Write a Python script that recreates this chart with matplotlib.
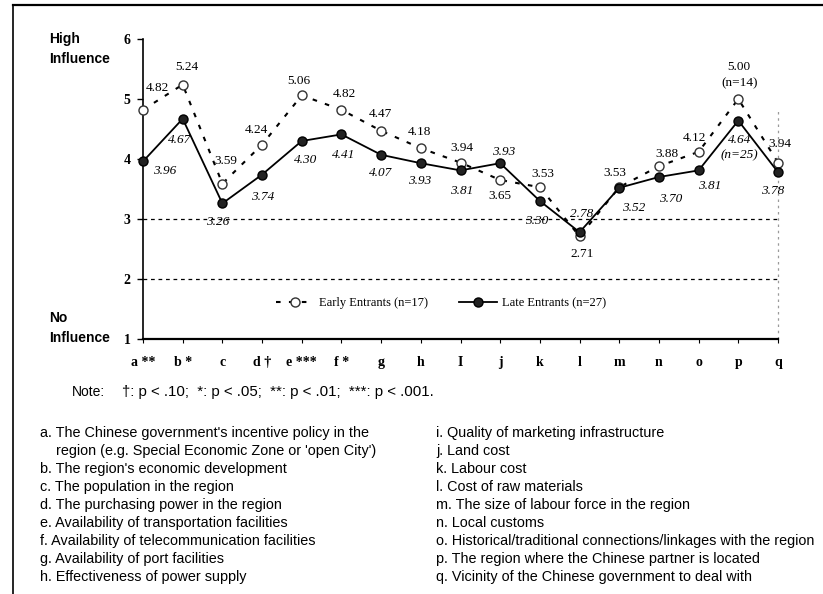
import matplotlib
matplotlib.use("Agg")
import matplotlib.pyplot as plt
from matplotlib.lines import Line2D

# Factor codes and mean influence scores
factors = ["a **", "b *", "c", "d \u2020", "e ***", "f *", "g", "h", "I", "j",
           "k", "l", "m", "n", "o", "p", "q"]
early = [4.82, 5.24, 3.59, 4.24, 5.06, 4.82, 4.47, 4.18, 3.94, 3.65,
         3.53, 2.71, 3.53, 3.88, 4.12, 5.00, 3.94]
late = [3.96, 4.67, 3.26, 3.74, 4.30, 4.41, 4.07, 3.93, 3.81, 3.93,
        3.30, 2.78, 3.52, 3.70, 3.81, 4.64, 3.78]
early_extra = {15: "(n=14)"}
late_extra = {15: "(n=25)"}

# label offsets in pixels (dx right, dy down) relative to each point
early_off = [(14, -22), (4, -18), (3, -23), (-6, -15), (-3, -14), (3, -16),
             (-1, -17), (-1, -16), (1, -15), (0, 16), (3, -13), (3, 18),
             (-4, -14), (8, -12), (-4, -14), (1, -24), (2, -19)]
late_off = [(22, 10), (-3, 21), (-5, 19), (1, 22), (4, 19), (2, 21),
            (-1, 18), (-1, 18), (1, 21), (3, -11), (-3, 20), (2, -18),
            (14, 20), (12, 22), (11, 16), (1, 27), (-5, 19)]

notes = "\u2020: p < .10;  *: p < .05;  **: p < .01;  ***: p < .001."
left_items = [
    "a. The Chinese government's incentive policy in the",
    "    region (e.g. Special Economic Zone or 'open City')",
    "b. The region's economic development",
    "c. The population in the region",
    "d. The purchasing power in the region",
    "e. Availability of transportation facilities",
    "f. Availability of telecommunication facilities",
    "g. Availability of port facilities",
    "h. Effectiveness of power supply",
]
right_items = [
    "i. Quality of marketing infrastructure",
    "j. Land cost",
    "k. Labour cost",
    "l. Cost of raw materials",
    "m. The size of labour force in the region",
    "n. Local customs",
    "o. Historical/traditional connections/linkages with the region",
    "p. The region where the Chinese partner is located",
    "q. Vicinity of the Chinese government to deal with",
]

SERIF = "Liberation Serif"
SANS = "Liberation Sans"
W, H = 823, 594

fig = plt.figure(figsize=(W / 100, H / 100), dpi=100)
fig.patch.set_facecolor("white")


def fx(px):
    return px / W


def fy(py):
    return 1 - py / H


ax_left, ax_right, ax_top, ax_bot = 143, 778, 39, 339
ax = fig.add_axes([fx(ax_left), fy(ax_bot), fx(ax_right - ax_left),
                   (ax_bot - ax_top) / H])
x = list(range(len(factors)))
ax.set_xlim(0, len(factors) - 1)
ax.set_ylim(1, 6)

# reference lines
for yv in (2, 3):
    ax.plot([0, 16], [yv, yv], color="black", lw=0.9, ls=(0, (3, 3)), zorder=1)
ax.plot([16, 16], [1, 4.8], color="#9a9a9a", lw=0.9, ls=(0, (2, 3)), zorder=1,
        clip_on=False)

ax.plot(x, early, color="black", lw=1.5, ls=(0, (2.2, 4)), marker="o",
        ms=6.5, mfc="white", mec="#333333", mew=1.0, clip_on=False, zorder=3,
        label="Early Entrants (n=17)")
ax.plot(x, late, color="black", lw=1.3, ls="-", marker="o", ms=6.5,
        mfc="#222222", mec="black", mew=1.0, clip_on=False, zorder=4,
        label="Late Entrants (n=27)")

for i, v in enumerate(early):
    txt = f"{v:.2f}"
    if i in early_extra:
        txt += "\n" + early_extra[i]
    dx, dy = early_off[i]
    ax.annotate(txt, (i, v), xytext=(dx, -dy), textcoords="offset pixels",
                ha="center", va="center", fontsize=9.5, family=SERIF,
                linespacing=1.4, zorder=5)
for i, v in enumerate(late):
    txt = f"{v:.2f}"
    if i in late_extra:
        txt += "\n" + late_extra[i]
    dx, dy = late_off[i]
    ax.annotate(txt, (i, v), xytext=(dx, -dy), textcoords="offset pixels",
                ha="center", va="center", fontsize=9.5, family=SERIF,
                style="italic", linespacing=1.4, zorder=5)

for s in ("top", "right"):
    ax.spines[s].set_visible(False)
ax.spines["left"].set_linewidth(1.2)
ax.spines["bottom"].set_linewidth(1.6)
ax.set_xticks(x)
ax.set_xticklabels(factors, family=SERIF, fontsize=10, fontweight="bold")
ax.set_yticks([1, 2, 3, 4, 5, 6])
ax.set_yticklabels(["1", "2", "3", "4", "5", "6"], family=SERIF, fontsize=10,
                   fontweight="bold")
ax.tick_params(axis="y", length=4, width=1, pad=5)
ax.tick_params(axis="x", length=3, width=0.8, pad=9)

leg = ax.legend(loc="center", bbox_to_anchor=(fx(441), fy(303)),
                bbox_transform=fig.transFigure, ncol=2, frameon=False,
                prop={"family": SERIF, "size": 9}, handlelength=3.0,
                handletextpad=0.4, columnspacing=2.5)

fig.text(fx(49), fy(49), "High\nInfluence", family=SANS, fontweight="bold",
         fontsize=10, ha="left", va="center", linespacing=1.5)
fig.text(fx(49), fy(328), "No\nInfluence", family=SANS, fontweight="bold",
         fontsize=10, ha="left", va="center", linespacing=1.5)

fig.text(fx(72), fy(392), "Note:", family=SANS, fontsize=10, ha="left",
         va="center")
fig.text(fx(122), fy(392), notes, family=SANS, fontsize=10.8, ha="left",
         va="center")

y0, step = 433, 18
for k, line in enumerate(left_items):
    fig.text(fx(40), fy(y0 + k * step), line, family=SANS, fontsize=10.4,
             ha="left", va="center")
for k, line in enumerate(right_items):
    fig.text(fx(436), fy(y0 + k * step), line, family=SANS, fontsize=10.4,
             ha="left", va="center")

# page frame
fig.add_artist(Line2D([fx(13), 1], [fy(5), fy(5)], color="black", lw=1.6))
fig.add_artist(Line2D([fx(13), fx(13)], [fy(5), 0], color="black", lw=1.2))

fig.savefig("out.png", dpi=100)
